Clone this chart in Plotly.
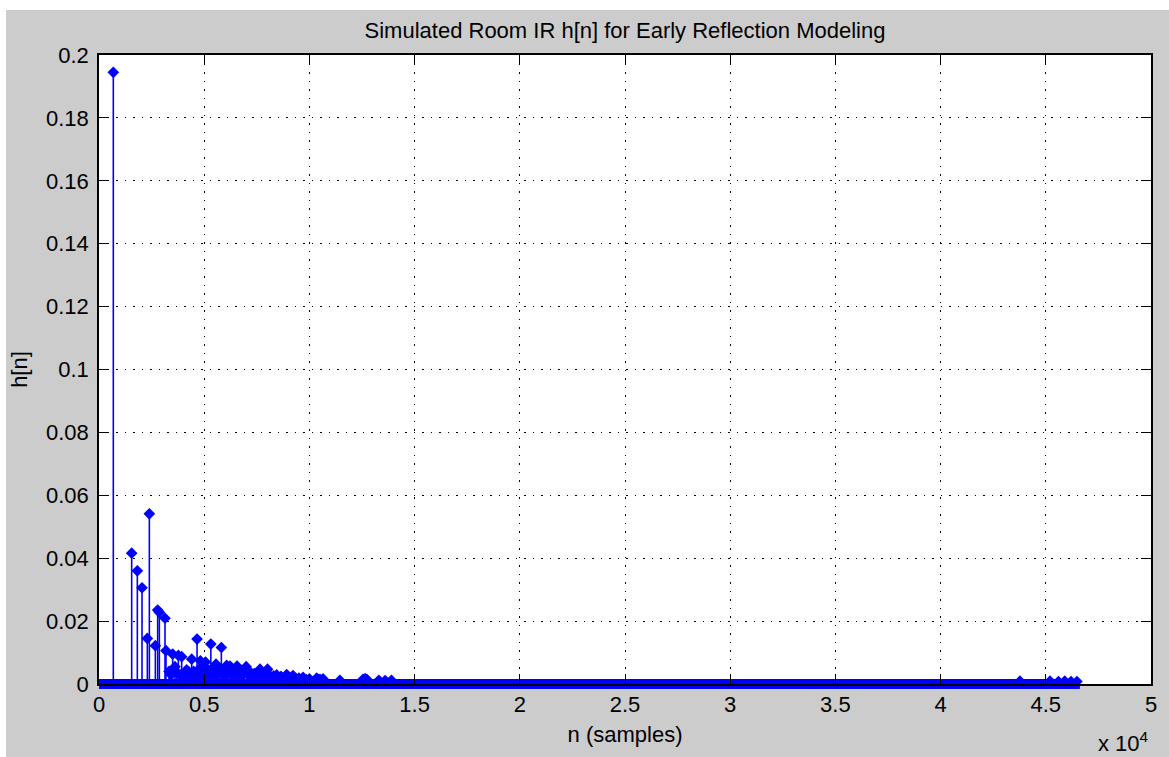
import plotly.graph_objects as go

# Sample indices (n) and amplitudes h[n] of the non-zero taps of the impulse response
n_idx = [
    680, 1553, 1822, 2044, 2297, 2393, 2678, 2788, 2868, 3137, 3184,
    3330, 3420, 3501, 3612, 3690, 3771, 3850, 3929, 4050, 4167, 4280,
    4340, 4405, 4500, 4560, 4660, 4720, 4760, 4820, 4870, 4930, 4980,
    5010, 5060, 5120, 5180, 5240, 5280, 5315, 5370, 5420, 5480, 5520,
    5561, 5610, 5660, 5700, 5750, 5815, 5870, 5920, 5980, 6020, 6067,
    6120, 6180, 6226, 6280, 6330, 6400, 6470, 6560, 6620, 6690, 6760,
    6840, 6900, 6995, 7080, 7150, 7230, 7300, 7380, 7460, 7540, 7652,
    7720, 7800, 7880, 7950, 8010, 8100, 8200, 8300, 8445, 8550, 8650,
    8760, 8920, 9050, 9220, 9350, 9500, 9700, 9850, 10000, 10347, 10500,
    10650, 11450, 12550, 12650, 12740, 13300, 13600, 13900, 43770, 45200,
    45600, 45900, 46200, 46480,
]
h_val = [
    0.1945, 0.0416, 0.0360, 0.0306, 0.0145, 0.0541, 0.0122, 0.0235, 0.0228, 0.0209, 0.0106,
    0.0040, 0.0030, 0.0095, 0.0055, 0.0035, 0.0091, 0.0030, 0.0087, 0.0028, 0.0045, 0.0038,
    0.0025, 0.0079, 0.0040, 0.0030, 0.0143, 0.0045, 0.0035, 0.0074, 0.0050, 0.0040, 0.0052,
    0.0030, 0.0070, 0.0048, 0.0035, 0.0042, 0.0028, 0.0127, 0.0050, 0.0038, 0.0045, 0.0030,
    0.0063, 0.0040, 0.0050, 0.0035, 0.0042, 0.0116, 0.0038, 0.0048, 0.0032, 0.0044, 0.0059,
    0.0036, 0.0042, 0.0057, 0.0050, 0.0034, 0.0040, 0.0030, 0.0057, 0.0042, 0.0033, 0.0038,
    0.0030, 0.0041, 0.0055, 0.0036, 0.0028, 0.0035, 0.0030, 0.0033, 0.0026, 0.0031, 0.0047,
    0.0028, 0.0032, 0.0025, 0.0030, 0.0047, 0.0027, 0.0022, 0.0026, 0.0029, 0.0020, 0.0024,
    0.0018, 0.0030, 0.0020, 0.0027, 0.0017, 0.0019, 0.0021, 0.0014, 0.0016, 0.0019, 0.0015,
    0.0016, 0.0012, 0.0015, 0.0017, 0.0014, 0.0012, 0.0011, 0.0012, 0.0009, 0.0009,
    0.0008, 0.0009, 0.0008, 0.0008,
]
# Length of the response; every other sample up to here is zero
n_last = 46620

x_ticks = [0, 5000, 10000, 15000, 20000, 25000, 30000, 35000, 40000, 45000, 50000]
x_tick_text = ["0", "0.5", "1", "1.5", "2", "2.5", "3", "3.5", "4", "4.5", "5"]
y_ticks = [0, 0.02, 0.04, 0.06, 0.08, 0.1, 0.12, 0.14, 0.16, 0.18, 0.2]
y_tick_text = ["0", "0.02", "0.04", "0.06", "0.08", "0.1", "0.12", "0.14", "0.16", "0.18", "0.2"]

BLUE = "#0000ff"
FONT = "Liberation Sans, Arial, Helvetica, sans-serif"
FS = 22

# stem lines: one vertical segment per tap
stem_x, stem_y = [], []
for n, h in zip(n_idx, h_val):
    stem_x += [n, n, None]
    stem_y += [0, h, None]

fig = go.Figure()
fig.add_trace(go.Scatter(
    x=stem_x, y=stem_y, mode="lines",
    line=dict(color=BLUE, width=1.6),
    hoverinfo="skip", showlegend=False,
))
fig.add_trace(go.Scatter(
    x=n_idx, y=h_val, mode="markers",
    marker=dict(color=BLUE, size=9, symbol="diamond", line=dict(width=0)),
    cliponaxis=False, showlegend=False,
))

# zero-valued samples: markers packed along the baseline form a solid band
fig.add_shape(
    type="rect", xref="x", yref="paper", ysizemode="pixel", yanchor=0,
    x0=0, x1=n_last, y0=-5, y1=5,
    fillcolor=BLUE, line=dict(width=0), layer="below",
)

# white strips at the top and left of the figure window
fig.add_shape(type="rect", xref="paper", yref="paper", x0=-0.2, x1=1.2,
              y0=1.0716, y1=1.2, fillcolor="white", line=dict(width=0), layer="below")
fig.add_shape(type="rect", xref="paper", yref="paper", x0=-0.2, x1=-0.0884,
              y0=-0.3, y1=1.2, fillcolor="white", line=dict(width=0), layer="below")

axis_common = dict(
    showline=True, linecolor="black", linewidth=1.6, mirror="ticks",
    ticks="inside", ticklen=10, tickwidth=1, tickcolor="black",
    showgrid=True, gridcolor="black", gridwidth=1, griddash="1.5px,7px",
    zeroline=False, tickfont=dict(family=FONT, size=FS, color="black"),
)

fig.update_xaxes(
    range=[0, 50000], tickvals=x_ticks, ticktext=x_tick_text,
    title=dict(text="n (samples)", font=dict(family=FONT, size=FS, color="black"), standoff=10),
    **axis_common,
)
fig.update_yaxes(
    range=[0, 0.2], tickvals=y_ticks, ticktext=y_tick_text,
    title=dict(text="h[n]", font=dict(family=FONT, size=FS, color="black"), standoff=12),
    ticklabelstandoff=4,
    **axis_common,
)

fig.add_annotation(
    text="x 10<sup>4</sup>", xref="paper", yref="paper", x=1.0, y=0,
    xanchor="right", yanchor="top", yshift=-42, showarrow=False,
    font=dict(family=FONT, size=FS, color="black"),
)

fig.update_layout(
    width=1169, height=757,
    margin=dict(l=99, r=18, t=55, b=73),
    paper_bgcolor="#cccccc", plot_bgcolor="white",
    title=dict(
        text="Simulated Room IR h[n] for Early Reflection Modeling",
        x=0.5, xref="paper", y=1 - 30 / 757, yref="container", yanchor="middle",
        font=dict(family=FONT, size=FS, color="black"),
    ),
    font=dict(family=FONT, size=FS, color="black"),
)

fig.write_html("out.html")
